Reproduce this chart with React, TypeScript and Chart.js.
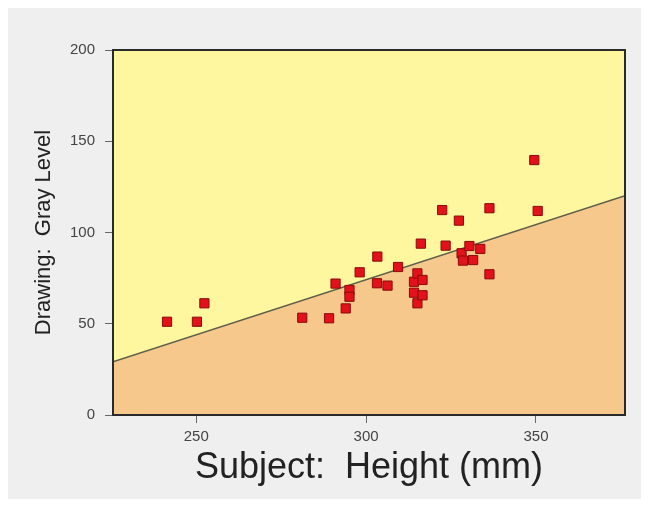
import React, { useEffect, useRef } from "react";
import { Chart, registerables } from "chart.js";

Chart.register(...registerables);

const heights = [241.4, 250.2, 252.4, 281.2, 289.1, 291.0, 294.0, 295.1, 295.1, 298.1, 303.2, 303.3, 306.3, 309.4, 314.1, 314.1, 315.1, 315.1, 316.1, 316.6, 316.6, 322.4, 323.4, 327.3, 328.1, 328.5, 330.4, 331.5, 333.6, 336.3, 336.3, 349.5, 350.5];
const grayLevels = [51.1, 51.1, 61.2, 53.3, 53.0, 72.0, 58.4, 68.5, 64.8, 78.2, 72.2, 86.8, 70.9, 81.1, 73.0, 67.0, 77.6, 61.2, 93.9, 74.0, 65.6, 112.3, 92.8, 106.5, 88.6, 84.6, 92.6, 84.9, 91.0, 113.3, 77.1, 139.7, 111.8];
const fitX = [225.5, 376.2];
const fitY = [29.2, 120.2];
const xTicks = [250, 300, 350];
const yTicks = [0, 50, 100, 150, 200];
const xRange = [225.5, 376.2];
const yRange = [0, 200];

const FONT = "'Liberation Sans', Arial, Helvetica, sans-serif";

const areaPlugin = {
  id: "areaPlugin",
  beforeDatasetsDraw(chart: any) {
    const { ctx, chartArea: a } = chart;
    ctx.save();
    ctx.fillStyle = "#fff6a0";
    ctx.fillRect(a.left, a.top, a.right - a.left, a.bottom - a.top);
    ctx.restore();
  },
  afterDatasetsDraw(chart: any) {
    const { ctx, chartArea: a } = chart;
    ctx.save();
    ctx.strokeStyle = "#2a2a2a";
    ctx.lineWidth = 2;
    ctx.strokeRect(a.left, a.top, a.right - a.left, a.bottom - a.top);
    ctx.restore();
  },
};

export default function App() {
  const ref = useRef<HTMLCanvasElement>(null);
  useEffect(() => {
    if (!ref.current) return;
    const chart = new Chart(ref.current, {
      type: "scatter",
      data: {
        datasets: [
          {
            type: "line",
            data: fitX.map((x, i) => ({ x, y: fitY[i] })),
            borderColor: "#5e5e4a",
            borderWidth: 1.5,
            pointRadius: 0,
            fill: "start",
            backgroundColor: "#f6c88c",
            order: 2,
          } as any,
          {
            type: "scatter",
            data: heights.map((x, i) => ({ x, y: grayLevels[i] })),
            pointStyle: "rect",
            pointRadius: 6.5,
            backgroundColor: "#e3121a",
            borderColor: "#8a0a0a",
            borderWidth: 1,
            order: 1,
          },
        ],
      },
      options: {
        responsive: false,
        animation: false,
        layout: { padding: { top: 42, right: 16, left: 0, bottom: 0 } },
        plugins: { legend: { display: false }, tooltip: { enabled: false } },
        scales: {
          x: {
            type: "linear",
            min: xRange[0],
            max: xRange[1],
            afterBuildTicks: (s: any) => {
              s.ticks = xTicks.map((v) => ({ value: v }));
            },
            afterFit: (s: any) => {
              s.height = 84;
            },
            grid: { drawOnChartArea: false, drawTicks: true, tickLength: 8, color: "#666" },
            border: { display: false },
            ticks: { font: { family: FONT, size: 15 }, color: "#444", padding: 5 },
            title: {
              display: true,
              text: "Subject:  Height (mm)",
              font: { family: FONT, size: 36 },
              color: "#222",
              padding: { top: 0, bottom: 9 },
            },
          },
          y: {
            type: "linear",
            min: yRange[0],
            max: yRange[1],
            afterBuildTicks: (s: any) => {
              s.ticks = yTicks.map((v) => ({ value: v }));
            },
            afterFit: (s: any) => {
              s.width = 105;
            },
            grid: { drawOnChartArea: false, drawTicks: true, tickLength: 8, color: "#666" },
            border: { display: false },
            ticks: { font: { family: FONT, size: 15 }, color: "#444", padding: 10 },
            title: {
              display: true,
              text: "Drawing:  Gray Level",
              font: { family: FONT, size: 22 },
              color: "#222",
              padding: { top: 23, bottom: 0 },
            },
          },
        },
      },
      plugins: [areaPlugin],
    });
    return () => chart.destroy();
  }, []);
  return (
    <div style={{ width: 633, height: 491, background: "#efefef" }}>
      <canvas ref={ref} width={633} height={491} style={{ display: "block" }} />
    </div>
  );
}
